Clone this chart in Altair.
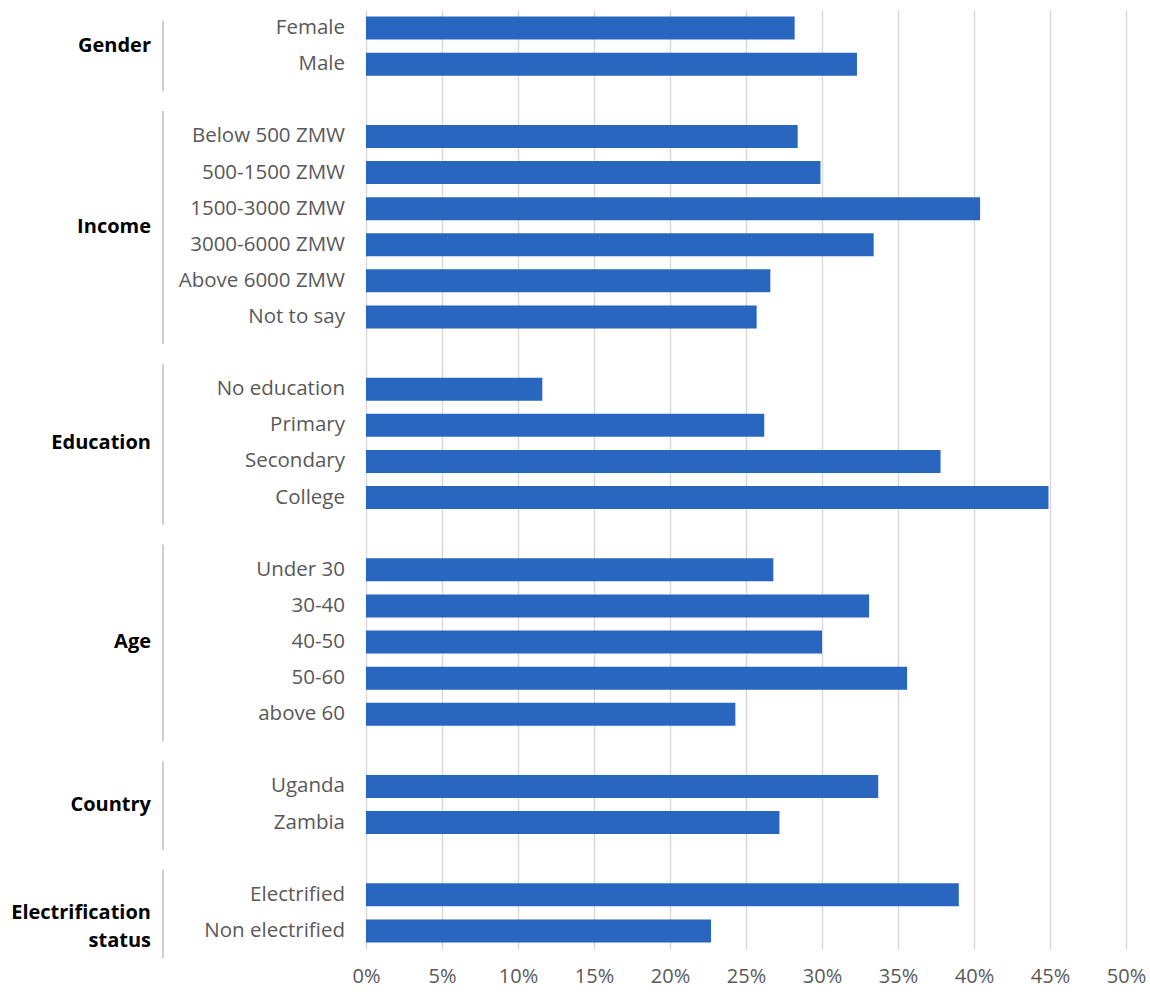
import altair as alt
import pandas as pd

# ---- data ----
groups = ["Gender", "Income", "Education", "Age", "Country", "Electrification status"]
group_labels = ["Gender", "Income", "Education", "Age", "Country", "Electrification\nstatus"]
categories = [
    ["Female", "Male"],
    ["Below 500 ZMW", "500-1500 ZMW", "1500-3000 ZMW", "3000-6000 ZMW", "Above 6000 ZMW", "Not to say"],
    ["No education", "Primary", "Secondary", "College"],
    ["Under 30", "30-40", "40-50", "50-60", "above 60"],
    ["Uganda", "Zambia"],
    ["Electrified", "Non electrified"],
]
values = [
    [28.2, 32.3],
    [28.4, 29.9, 40.4, 33.4, 26.6, 25.7],
    [11.6, 26.2, 37.8, 44.9],
    [26.8, 33.1, 30.0, 35.6, 24.3],
    [33.7, 27.2],
    [39.0, 22.7],
]
x_ticks = [0, 0.05, 0.10, 0.15, 0.20, 0.25, 0.30, 0.35, 0.40, 0.45, 0.50]

# ---- build tables (one blank slot between groups) ----
rows, grp_rows, sep_rows = [], [], []
slot = 0
for g, gl, cats, vals in zip(groups, group_labels, categories, values):
    first = slot
    for c, v in zip(cats, vals):
        rows.append({"group": g, "category": c, "value": v / 100.0, "slot": slot})
        slot += 1
    last = slot - 1
    grp_rows.append({"group": g, "label": gl, "slot": (first + last) / 2.0})
    sep_rows.append({"group": g, "y1": max(first - 0.7, -0.2), "y2": last + 0.75})
    slot += 1  # blank row
n_slots = slot - 1

df = pd.DataFrame(rows)
gdf = pd.DataFrame(grp_rows)
sdf = pd.DataFrame(sep_rows)

FONT = "Open Sans"
BAR = "#2866BF"

yscale = alt.Scale(domain=[-0.5, n_slots - 0.5], reverse=True, nice=False, zero=False, padding=0)

bars = alt.Chart(df).mark_bar(color=BAR, size=23, orient="horizontal").encode(
    x=alt.X(
        "value:Q",
        scale=alt.Scale(domain=[0, 0.5], nice=False, padding=0),
        axis=alt.Axis(
            values=x_ticks, format=".0%", title=None, grid=True, gridColor="#d9d9d9",
            gridWidth=1.5, ticks=False, domain=False, labelFont=FONT, labelFontSize=20,
            labelColor="#595959", labelPadding=17, labelFlush=False,
        ),
    ),
    x2=alt.datum(0),
    y=alt.Y("slot:Q", scale=yscale, axis=None),
)

cat_text = alt.Chart(df).mark_text(
    align="right", baseline="middle", font=FONT, fontSize=20.5, color="#595959"
).encode(
    x=alt.value(-21),
    y=alt.Y("slot:Q", scale=yscale, axis=None),
    text="category:N",
)

grp_text = alt.Chart(gdf).mark_text(
    align="right", baseline="middle", font=FONT, fontSize=20, fontWeight="bold",
    color="#000000", lineBreak="\n", lineHeight=28,
).encode(
    x=alt.value(-215),
    y=alt.Y("slot:Q", scale=yscale, axis=None),
    text="label:N",
)

seps = alt.Chart(sdf).mark_rule(color="#bfbfbf", strokeWidth=1.5).encode(
    x=alt.value(-203),
    y=alt.Y("y1:Q", scale=yscale, axis=None),
    y2="y2:Q",
)

chart = alt.layer(bars, cat_text, grp_text, seps).properties(
    width=760,
    height=939,
    autosize=alt.AutoSizeParams(type="none"),
    padding={"left": 366, "top": 10, "right": 24, "bottom": 39},
    background="white",
).configure_view(stroke=None)

chart.save("out.html", embed_options={"renderer": "svg", "actions": False})
